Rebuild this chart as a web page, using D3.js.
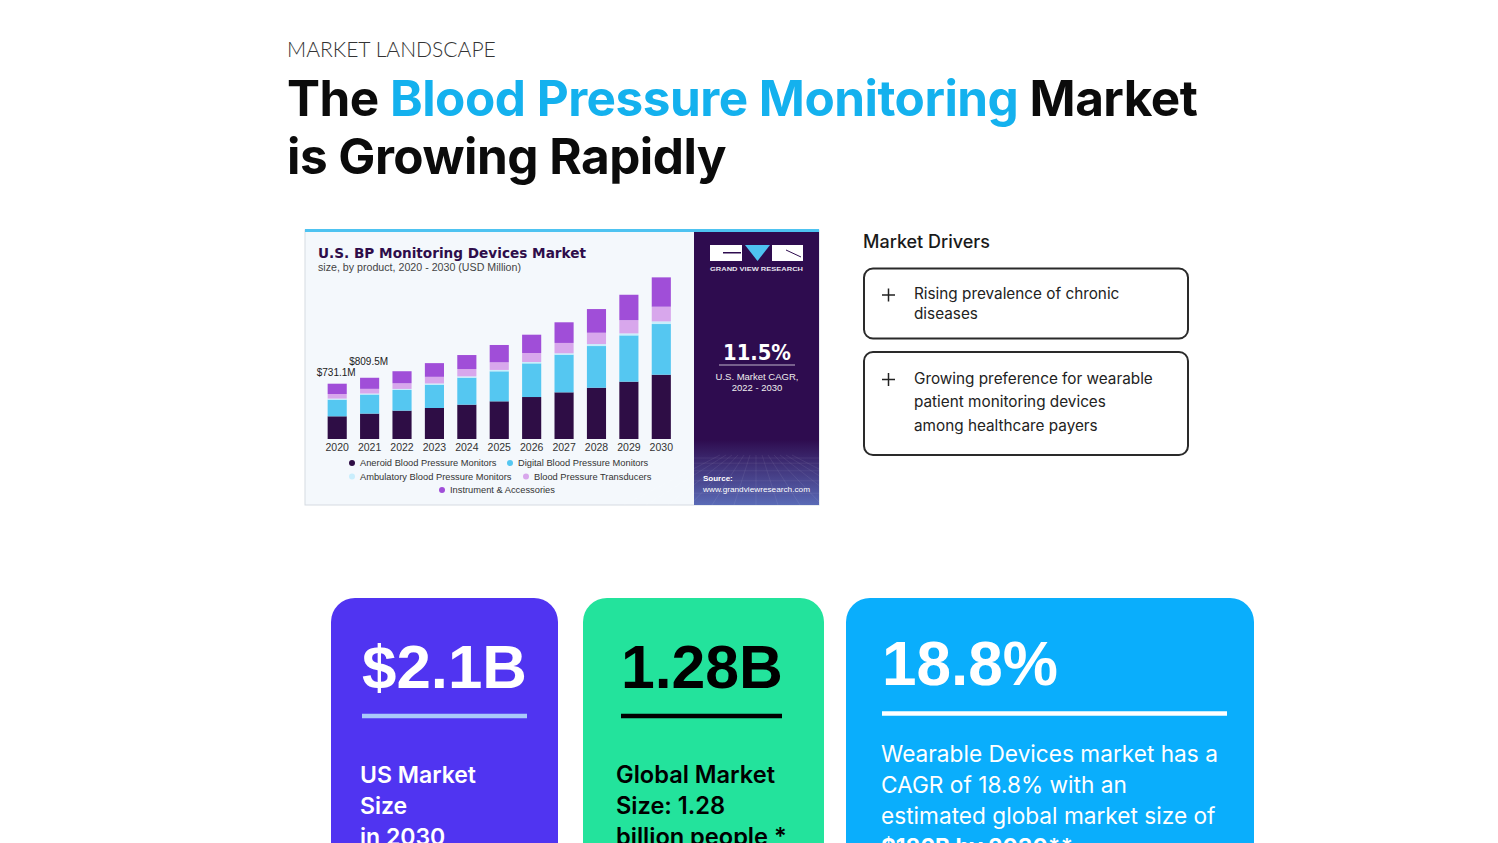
<!DOCTYPE html>
<html>
<head>
<meta charset="utf-8">
<script src="https://cdn.jsdelivr.net/npm/d3@7"></script>
<style>
  html, body { margin: 0; padding: 0; background: #fff; }
  svg { display: block; }
</style>
</head>
<body>
<script>
"use strict";

// chart data (USD Million)
var years = ["2020", "2021", "2022", "2023", "2024", "2025", "2026", "2027", "2028", "2029", "2030"];
var aneroid     = [300, 336, 375, 410, 454, 498, 555, 617, 678, 758, 850];
var digital     = [220, 252, 273, 308, 357, 397, 445, 498, 551, 612, 670];
var ambulatory  = [14, 13, 14, 16, 17, 18, 18, 18, 26, 26, 35];
var transducers = [61, 62, 75, 88, 97, 101, 119, 137, 150, 176, 194];
var instrument  = [136.1, 146.5, 159, 181, 185, 229, 242, 273, 313, 335, 388];

var seriesNames = ["Aneroid Blood Pressure Monitors", "Digital Blood Pressure Monitors",
  "Ambulatory Blood Pressure Monitors", "Blood Pressure Transducers", "Instrument & Accessories"];
var seriesColors = ["#2e0d45", "#55c7f1", "#c9eefc", "#d8a7ec", "#a04ed8"];

var labelYears = ["2020", "2021"];
var labelTexts = ["$731.1M", "$809.5M"];

var drivers = [
  ["Rising prevalence of chronic", "diseases"],
  ["Growing preference for wearable", "patient monitoring devices", "among healthcare payers"]
];

var width = 1498, height = 843;

var svg = d3.select("body").append("svg")
  .attr("width", width)
  .attr("height", height);

svg.append("rect").attr("width", width).attr("height", height).attr("fill", "#fff");

// scale a text so it takes a given width
function fitTo(sel, target) {
  var fs = parseFloat(sel.attr("font-size"));
  var w = sel.node().getComputedTextLength();
  var nfs = fs * target / w;
  sel.attr("font-size", nfs);
  return nfs;
}

// ---------- header ----------
var kicker = svg.append("text")
  .attr("x", 287).attr("y", 57)
  .attr("font-family", "Lato").attr("font-weight", 300)
  .attr("font-size", 20).attr("fill", "#333")
  .text("MARKET LANDSCAPE");
fitTo(kicker, 209);

var title1 = svg.append("text")
  .attr("x", 287).attr("y", 116)
  .attr("font-family", "Inter").attr("font-weight", 700)
  .attr("font-size", 48).attr("fill", "#0b0b0b")
  .attr("letter-spacing", "-0.5");
title1.append("tspan").text("The ");
title1.append("tspan").attr("fill", "#14b1ee").text("Blood Pressure Monitoring");
title1.append("tspan").text(" Market");
var titleSize = fitTo(title1, 910);

svg.append("text")
  .attr("x", 287).attr("y", 174)
  .attr("font-family", "Inter").attr("font-weight", 700)
  .attr("font-size", titleSize).attr("fill", "#0b0b0b")
  .attr("letter-spacing", "-0.5")
  .text("is Growing Rapidly");

// ---------- chart image ----------
var chart = svg.append("g");

chart.append("rect")
  .attr("x", 305).attr("y", 230).attr("width", 514).attr("height", 275)
  .attr("fill", "#f4f8fc").attr("stroke", "#d6dbe2");

var defs = svg.append("defs");
var grad = defs.append("linearGradient").attr("id", "panelGrad")
  .attr("x1", 0).attr("y1", 0).attr("x2", 0).attr("y2", 1);
grad.append("stop").attr("offset", "0%").attr("stop-color", "#2e0c4f");
grad.append("stop").attr("offset", "100%").attr("stop-color", "#5a6ab6");

chart.append("rect")
  .attr("x", 694).attr("y", 231).attr("width", 125).attr("height", 274)
  .attr("fill", "#2e0c4f");
chart.append("rect")
  .attr("x", 694).attr("y", 440).attr("width", 125).attr("height", 65)
  .attr("fill", "url(#panelGrad)");

// faint perspective grid at the panel bottom
var grid = chart.append("g").attr("stroke", "#ffffff").attr("stroke-opacity", 0.12).attr("stroke-width", 0.6);
d3.range(0, 7).forEach(function (i) {
  var gy = 458 + i * i * 1.2 + i * 4;
  grid.append("line").attr("x1", 694).attr("x2", 819).attr("y1", gy).attr("y2", gy);
});
d3.range(-6, 7).forEach(function (i) {
  grid.append("line")
    .attr("x1", 756 + i * 6).attr("y1", 455)
    .attr("x2", 756 + i * 22).attr("y2", 505);
});

chart.append("rect")
  .attr("x", 305).attr("y", 229).attr("width", 514).attr("height", 3)
  .attr("fill", "#4ec3f1");

chart.append("text")
  .attr("x", 318).attr("y", 257.5)
  .attr("font-family", "DejaVu Sans").attr("font-weight", 700)
  .attr("font-size", 14.5).attr("fill", "#2e0d4a")
  .attr("textLength", 268).attr("lengthAdjust", "spacingAndGlyphs")
  .text("U.S. BP Monitoring Devices Market");

chart.append("text")
  .attr("x", 318).attr("y", 270.5)
  .attr("font-family", "Liberation Sans")
  .attr("font-size", 10).attr("fill", "#444")
  .attr("textLength", 203).attr("lengthAdjust", "spacingAndGlyphs")
  .text("size, by product, 2020 - 2030 (USD Million)");

var x = d3.scaleBand()
  .domain(years)
  .range([321, 677.5])
  .paddingInner(0.41)
  .paddingOuter(0.205);

var y = d3.scaleLinear()
  .domain([0, 2200])
  .range([439, 272.6]);

var seriesArrays = [aneroid, digital, ambulatory, transducers, instrument];
var rows = years.map(function (yr, i) {
  var r = { year: yr };
  seriesNames.forEach(function (n, k) { r[n] = seriesArrays[k][i]; });
  return r;
});

var stacked = d3.stack().keys(seriesNames)(rows);

chart.append("g")
  .selectAll("g")
  .data(stacked)
  .join("g")
  .attr("fill", function (d, i) { return seriesColors[i]; })
  .selectAll("rect")
  .data(function (d) { return d; })
  .join("rect")
  .attr("x", function (d) { return x(d.data.year); })
  .attr("y", function (d) { return y(d[1]); })
  .attr("width", x.bandwidth())
  .attr("height", function (d) { return y(d[0]) - y(d[1]); });

var xAxis = chart.append("g")
  .attr("transform", "translate(0,439)")
  .call(d3.axisBottom(x).tickSize(0).tickPadding(4.5));
xAxis.select(".domain").remove();
xAxis.selectAll("text")
  .attr("font-family", "Liberation Sans")
  .attr("font-size", 10.5)
  .attr("fill", "#333");

var totals = rows.map(function (r) {
  return d3.sum(seriesNames, function (n) { return r[n]; });
});

labelYears.forEach(function (yr, i) {
  var idx = years.indexOf(yr);
  chart.append("text")
    .attr("x", x(yr) + x.bandwidth() / 2 - 1)
    .attr("y", y(totals[idx]) - (i === 0 ? 8 : 13))
    .attr("text-anchor", "middle")
    .attr("font-family", "Liberation Sans")
    .attr("font-size", 10).attr("fill", "#222")
    .text(labelTexts[i]);
});

// legend
var legendPos = [[352, 463], [510, 463], [352, 476.5], [526, 476.5], [442, 490]];
var legend = chart.append("g");
seriesNames.forEach(function (n, i) {
  legend.append("circle")
    .attr("cx", legendPos[i][0]).attr("cy", legendPos[i][1])
    .attr("r", 3).attr("fill", seriesColors[i]);
  legend.append("text")
    .attr("x", legendPos[i][0] + 8).attr("y", legendPos[i][1] + 3.3)
    .attr("font-family", "Liberation Sans")
    .attr("font-size", 9.3).attr("fill", "#333")
    .text(n);
});

// panel logo
var logo = chart.append("g");
logo.append("rect").attr("x", 710).attr("y", 245).attr("width", 32).attr("height", 16).attr("fill", "#fff");
logo.append("path").attr("d", "M745,245 L770,245 L757.5,261 Z").attr("fill", "#4ec3f1");
logo.append("rect").attr("x", 772).attr("y", 245).attr("width", 31).attr("height", 16).attr("fill", "#fff");
logo.append("path").attr("d", "M723,252 L741,252 L741,253.5 L723,253.5 Z").attr("fill", "#2e0c4f");
logo.append("path").attr("d", "M786,250 L801,257").attr("stroke", "#2e0c4f").attr("stroke-width", 1);
logo.append("text")
  .attr("x", 756.5).attr("y", 271).attr("text-anchor", "middle")
  .attr("font-family", "Liberation Sans").attr("font-weight", 700)
  .attr("font-size", 6).attr("fill", "#e8e4f0")
  .attr("textLength", 93).attr("lengthAdjust", "spacingAndGlyphs")
  .text("GRAND VIEW RESEARCH");

chart.append("text")
  .attr("x", 757).attr("y", 360).attr("text-anchor", "middle")
  .attr("font-family", "DejaVu Sans").attr("font-weight", 700)
  .attr("font-size", 22).attr("fill", "#fff")
  .attr("textLength", 68).attr("lengthAdjust", "spacingAndGlyphs")
  .text("11.5%");
chart.append("line")
  .attr("x1", 719).attr("x2", 795).attr("y1", 365).attr("y2", 365)
  .attr("stroke", "#ffffff").attr("stroke-opacity", 0.7).attr("stroke-width", 1);
chart.append("text")
  .attr("x", 757).attr("y", 379.5).attr("text-anchor", "middle")
  .attr("font-family", "Liberation Sans")
  .attr("font-size", 9.5).attr("fill", "#eee")
  .text("U.S. Market CAGR,");
chart.append("text")
  .attr("x", 757).attr("y", 391).attr("text-anchor", "middle")
  .attr("font-family", "Liberation Sans")
  .attr("font-size", 9.5).attr("fill", "#eee")
  .text("2022 - 2030");
chart.append("text")
  .attr("x", 703).attr("y", 481)
  .attr("font-family", "Liberation Sans").attr("font-weight", 700)
  .attr("font-size", 8).attr("fill", "#fff")
  .text("Source:");
chart.append("text")
  .attr("x", 703).attr("y", 491.5)
  .attr("font-family", "Liberation Sans")
  .attr("font-size", 8).attr("fill", "#fff")
  .attr("textLength", 107).attr("lengthAdjust", "spacingAndGlyphs")
  .text("www.grandviewresearch.com");

// ---------- market drivers ----------
svg.append("text")
  .attr("x", 863).attr("y", 248)
  .attr("font-family", "Inter").attr("font-weight", 500)
  .attr("font-size", 18).attr("fill", "#1a1a1a")
  .text("Market Drivers");

var boxTops = [268.5, 352];
var boxHeights = [70, 103];
var lineStarts = [299, 383.5];
var lineGaps = [20, 23.5];

drivers.forEach(function (lines, i) {
  var g = svg.append("g");
  g.append("rect")
    .attr("x", 864).attr("y", boxTops[i])
    .attr("width", 324).attr("height", boxHeights[i])
    .attr("rx", 9)
    .attr("fill", "#fff").attr("stroke", "#2a2a2a").attr("stroke-width", 2);
  var py = lineStarts[i] - 4;
  g.append("path")
    .attr("d", "M882," + py + " L895," + py + " M888.5," + (py - 6.5) + " L888.5," + (py + 6.5))
    .attr("stroke", "#222").attr("stroke-width", 1.5);
  lines.forEach(function (t, k) {
    g.append("text")
      .attr("x", 914).attr("y", lineStarts[i] + k * lineGaps[i])
      .attr("font-family", "Inter")
      .attr("font-size", 15.3).attr("fill", "#222")
      .text(t);
  });
});

// ---------- stat cards ----------
var cards = [
  { x: 331, w: 227, fill: "#5034f1", big: "$2.1B", bigW: 165, bigY: 688, ink: "#fff",
    rule: [362, 527, 716], ruleColor: "#a9c9fa",
    lines: ["US Market", "Size", "in 2030"], weight: 600, tx: 360, ty: 783, refW: 116 },
  { x: 583, w: 241, fill: "#23e39c", big: "1.28B", bigW: 162, bigY: 688, ink: "#000",
    rule: [621, 782, 716], ruleColor: "#000",
    lines: ["Global Market", "Size: 1.28", "billion people *"], weight: 600, tx: 616, ty: 783, refW: 159 },
  { x: 846, w: 408, fill: "#0aaefc", big: "18.8%", bigW: 176, bigY: 685, ink: "#fff",
    rule: [882, 1227, 713.5], ruleColor: "#fff",
    lines: ["Wearable Devices market has a", "CAGR of 18.8% with an", "estimated global market size of", "$186B by 2030**"],
    weight: 400, tx: 881, ty: 762, refW: 337 }
];

cards.forEach(function (c, ci) {
  var g = svg.append("g");
  g.append("rect")
    .attr("x", c.x).attr("y", 598).attr("width", c.w).attr("height", 300)
    .attr("rx", 24).attr("fill", c.fill);

  var big = g.append("text")
    .attr("x", c.rule[0]).attr("y", c.bigY)
    .attr("font-family", "Liberation Sans").attr("font-weight", 700)
    .attr("font-size", 60).attr("fill", c.ink)
    .text(c.big);
  fitTo(big, c.bigW);

  g.append("line")
    .attr("x1", c.rule[0]).attr("x2", c.rule[1])
    .attr("y1", c.rule[2]).attr("y2", c.rule[2])
    .attr("stroke", c.ruleColor).attr("stroke-width", 4.5);

  var first = g.append("text")
    .attr("x", c.tx).attr("y", c.ty)
    .attr("font-family", "Inter").attr("font-weight", c.weight)
    .attr("font-size", 22).attr("fill", c.ink)
    .text(c.lines[0]);
  var fs = fitTo(first, c.refW);
  c.lines.slice(1).forEach(function (t, k) {
    var last = ci === 2 && k === c.lines.length - 2;
    g.append("text")
      .attr("x", c.tx).attr("y", c.ty + (k + 1) * 31)
      .attr("font-family", "Inter").attr("font-weight", last ? 700 : c.weight)
      .attr("font-size", fs).attr("fill", c.ink)
      .text(t);
  });
});
</script>
</body>
</html>
